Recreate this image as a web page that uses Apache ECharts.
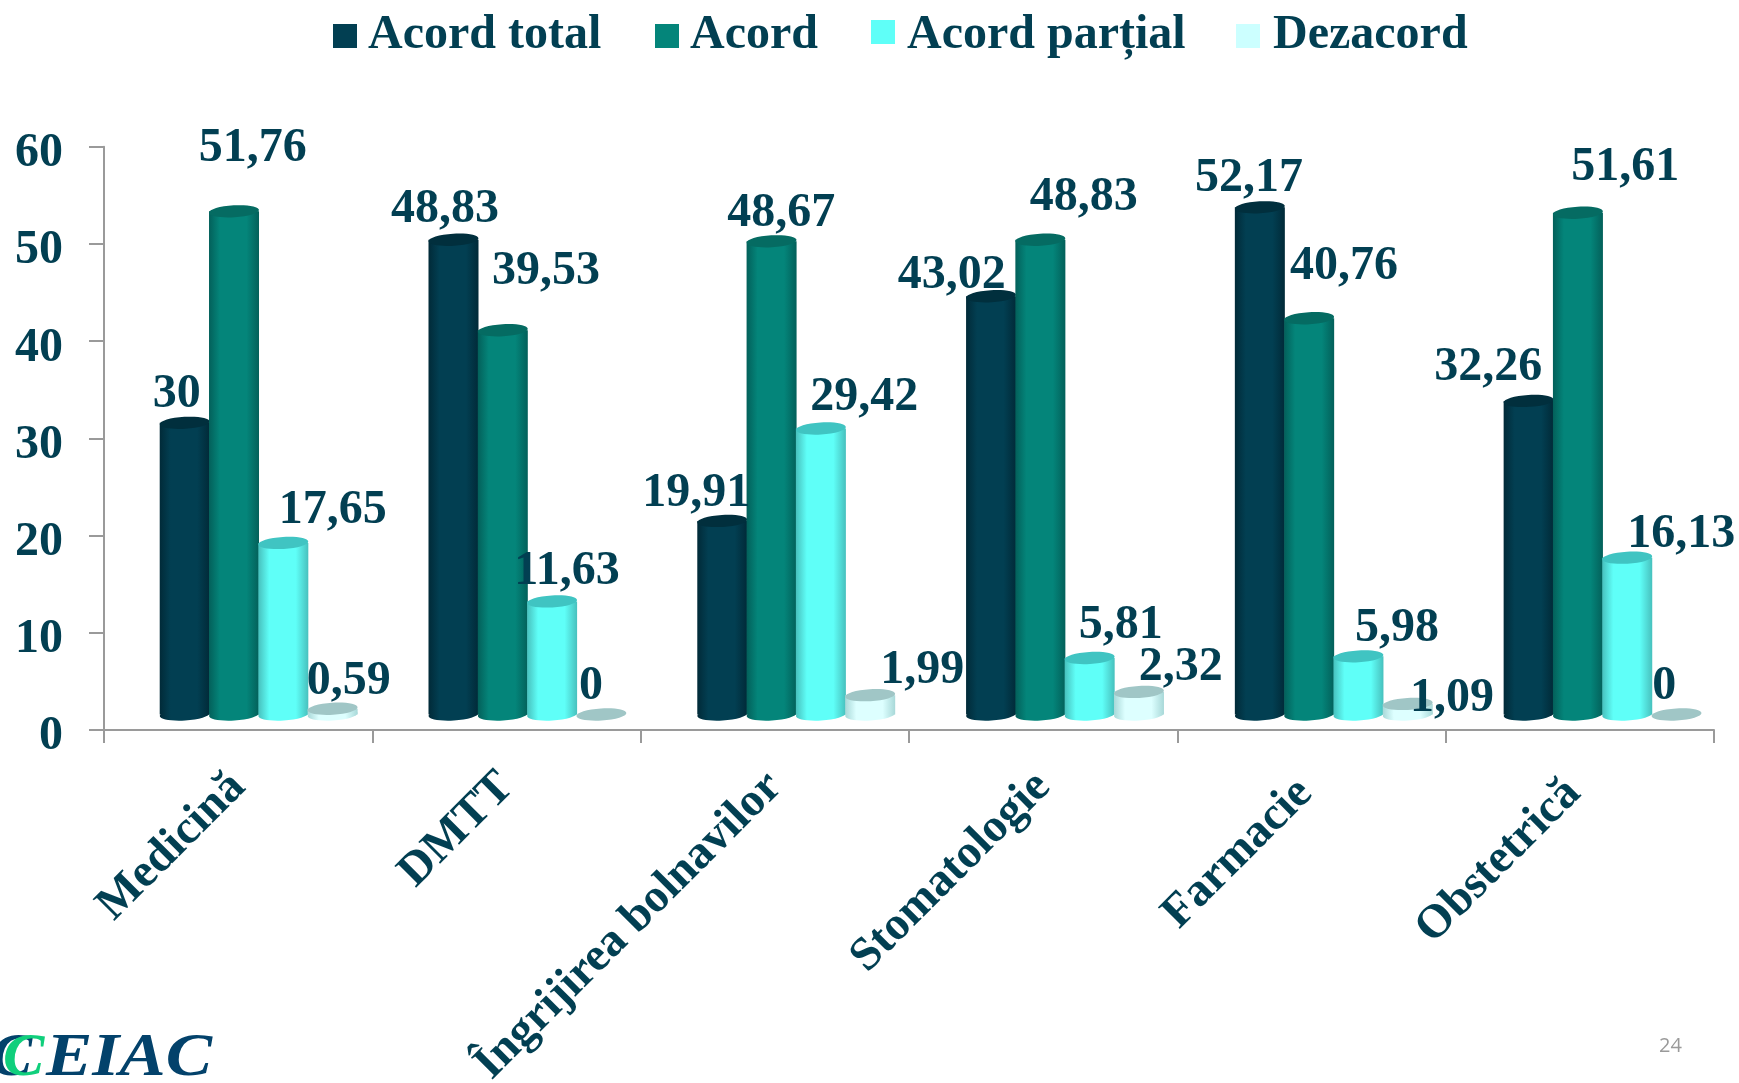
<!DOCTYPE html>
<html>
<head>
<meta charset="utf-8">
<style>html,body{margin:0;padding:0;background:#fff;overflow:hidden}#c{width:1739px;height:1083px}</style>
<script src="https://cdn.jsdelivr.net/npm/echarts@6/dist/echarts.min.js"></script>
</head>
<body>
<div id="c"></div>
<script>
const categories = ['Medicină','DMTT','Îngrijirea bolnavilor','Stomatologie','Farmacie','Obstetrică'];
const acordTotal   = [30, 48.83, 19.91, 43.02, 52.17, 32.26];
const acord        = [51.76, 39.53, 48.67, 48.83, 40.76, 51.61];
const acordPartial = [17.65, 11.63, 29.42, 5.81, 5.98, 16.13];
const dezacord     = [0.59, 0, 1.99, 2.32, 1.09, 0];
const yTicks = {min: 0, max: 60, interval: 10};

const seriesNames = ['Acord total','Acord','Acord parțial','Dezacord'];
const seriesValues = [acordTotal, acord, acordPartial, dezacord];

// styling only
const ink = '#023f52';
const serif = '"Liberation Serif","Times New Roman",serif';
const looks = [
  {legend:'#023f52', edge:'#012a38', mid:'#023f52', top:'#012f3d', leftPos:333, legendTop:12, textPad:[0,0,0,6]},
  {legend:'#04857a', edge:'#03605a', mid:'#04857a', top:'#056b62', leftPos:655, legendTop:12, textPad:[0,0,0,6]},
  {legend:'#5ffff8', edge:'#47c0bd', mid:'#5ffff8', top:'#40c4c2', leftPos:871, legendTop:12, textPad:[0,0,0,7]},
  {legend:'#ccffff', edge:'#a8d8d8', mid:'#ddffff', top:'#a0c6c6', leftPos:1236, legendTop:12, textPad:[0,0,0,8]}
];
// label nudges from the top of each bar (px), per series, per category
const nudges = [
  [[-7,-28],[-7,-30],[-24,-27],[-37,-21],[-8,-29],[-37,-33]],
  [[20,-63],[45,-59],[12,-28],[46,-42],[38,-52],[51,-45]],
  [[51,-32],[17,-30],[46,-31],[34,-32],[42,-28],[58,-23]],
  [[18,-27],[-8,-28],[55,-25],[45,-24],[48,-5],[-8,-28]]
];
const barStep = 49.3, barW = 50, rx = 25, ry = 6, tilt = 0.06, labelStep = 49, shiftY = 15.5;
const barShiftStart = 20.5, barShiftPerCategory = 0.45, labelShift = 19;
const categoryLabelPads = [null, null, null, null, [0,9,16,0], [0,9,16,0]];

function cylinder(s){
  const look = looks[s];
  const side = new echarts.graphic.LinearGradient(0,0,1,0,[
    {offset:0, color:look.edge},{offset:0.22, color:look.mid},
    {offset:0.75, color:look.mid},{offset:1, color:look.edge}]);
  return function(params, api){
    const c = api.value(0), v = api.value(1);
    const top = api.coord([c, v]), base = api.coord([c, 0]);
    const x = top[0] + barShiftStart + barShiftPerCategory * c + (s - 1.5) * barStep;
    const yT = top[1] - shiftY, yB = base[1] - shiftY;
    const kids = [];
    const ell = (cy, fill) => ({type:'ellipse', shape:{cx:x, cy:cy, rx:rx, ry:ry},
      rotation:tilt, originX:x, originY:cy, style:{fill:fill}});
    if (v > 0) {
      kids.push(ell(yB, side));
      kids.push({type:'rect', shape:{x:x-barW/2, y:yT, width:barW, height:yB-yT}, style:{fill:side}});
    }
    kids.push(ell(yT, look.top));
    const n = nudges[s][c];
    const labelX = top[0] + labelShift + (s - 1.5) * labelStep;
    kids.push({type:'text', z2:100, x:labelX+n[0], y:yT+n[1], silent:true,
      style:{text:String(v).replace('.',','), fill:ink, font:'bold 48px '+serif, align:'center', verticalAlign:'middle'}});
    return {type:'group', children:kids};
  };
}

const chart = echarts.init(document.getElementById('c'), null, {renderer:'canvas'});
chart.setOption({
  animation:false,
  backgroundColor:'#fff',
  legend: seriesNames.map((name,i)=>({
    data:[{name:name, icon:'rect', itemStyle:{color:looks[i].legend}}],
    left:looks[i].leftPos, top:looks[i].legendTop, padding:0,
    itemWidth:24, itemHeight:24, selectedMode:false,
    formatter: i === 2 ? '{low|{name}}' : '{name}',
    textStyle:{color:ink, fontFamily:serif, fontWeight:'bold', fontSize:48, padding:looks[i].textPad,
      rich:{low:{color:ink, fontFamily:serif, fontWeight:'bold', fontSize:48, padding:[8,0,0,0]}}}
  })),
  grid:{left:104, right:25, top:146.7, height:583.3, containLabel:false, outerBoundsMode:'none'},
  xAxis:{
    type:'category',
    data:categories.map((name,i)=>categoryLabelPads[i] ? {value:name, textStyle:{padding:categoryLabelPads[i]}} : name),
    axisLine:{lineStyle:{color:'#9a9a9a', width:2}},
    axisTick:{show:true, length:13, alignWithLabel:false, lineStyle:{color:'#9a9a9a', width:2}},
    axisLabel:{rotate:45, interval:0, margin:50, color:ink, fontFamily:serif, fontWeight:'bold', fontSize:47, hideOverlap:false}
  },
  yAxis:{
    type:'value', min:yTicks.min, max:yTicks.max, interval:yTicks.interval,
    splitLine:{show:false},
    axisLine:{show:true, lineStyle:{color:'#9a9a9a', width:2}},
    axisTick:{show:true, length:15, lineStyle:{color:'#9a9a9a', width:2}},
    axisLabel:{margin:41, color:ink, fontFamily:serif, fontWeight:'bold', fontSize:48,
      verticalAlign:'top', verticalAlignMaxLabel:'top', verticalAlignMinLabel:'top', lineHeight:14}
  },
  series: seriesNames.map((name,s)=>({
    type:'custom', name:name, clip:false,
    itemStyle:{color:looks[s].legend},
    renderItem:cylinder(s),
    encode:{x:0, y:1},
    data:seriesValues[s].map((v,i)=>[i,v])
  })),
  graphic:[
    {type:'text', x:-9, y:1028, style:{text:'C', fill:'#03426b', font:'italic bold 62px '+serif}},
    {type:'text', x:3, y:1028, style:{text:'C', fill:'#10cf7c', font:'italic bold 62px '+serif}},
    {type:'text', x:46, y:1028, scaleX:1.12, style:{text:'EIAC', fill:'#03426b', font:'italic bold 62px '+serif}},
    {type:'text', x:1659, y:1036, style:{text:'24', fill:'#9a9a9a', font:'20px "Open Sans",sans-serif'}}
  ]
});
</script>
</body>
</html>
